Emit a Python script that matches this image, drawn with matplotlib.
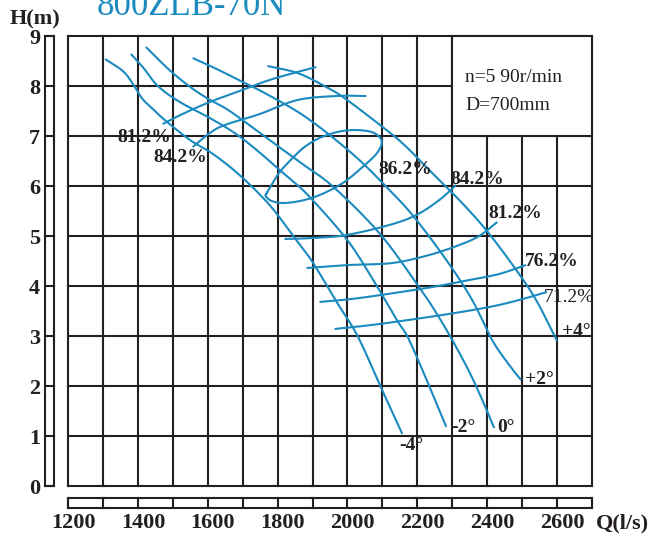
import numpy as np
import matplotlib.pyplot as plt
from matplotlib.patches import Rectangle
import matplotlib.transforms as mtransforms

plt.rcParams['font.family'] = ['Liberation Serif', 'DejaVu Serif']

BLUE = '#1a8abf'
INK = '#231f20'

# H-Q curves for each blade angle (Q in l/s, H in m)
q_m4 = [1306, 1357, 1386, 1411, 1440, 1477, 1549, 1611, 1691, 1777, 1849, 1900, 1969, 2029, 2094, 2157]
h_m4 = [8.54, 8.30, 8.04, 7.76, 7.56, 7.32, 6.92, 6.66, 6.22, 5.62, 4.96, 4.48, 3.68, 3.00, 2.00, 1.04]
q_m2 = [1380, 1414, 1457, 1520, 1606, 1677, 1740, 1806, 1863, 1900, 1969, 2020, 2091, 2143, 2171, 2206, 2234, 2283]
h_m2 = [8.64, 8.38, 8.00, 7.68, 7.36, 7.06, 6.72, 6.32, 5.98, 5.72, 5.18, 4.72, 3.92, 3.30, 3.00, 2.46, 2.00, 1.18]
q_0 = [1423, 1463, 1500, 1546, 1597, 1654, 1711, 1777, 1863, 1960, 2091, 2197, 2249, 2300, 2349, 2386, 2420]
h_0 = [8.78, 8.50, 8.26, 8.00, 7.76, 7.54, 7.26, 6.92, 6.48, 5.98, 5.06, 4.06, 3.52, 2.92, 2.28, 1.72, 1.16]
q_p2 = [1557, 1620, 1683, 1763, 1863, 1949, 2034, 2106, 2186, 2283, 2357, 2414, 2463, 2497]
h_p2 = [8.56, 8.36, 8.14, 7.86, 7.46, 7.02, 6.52, 6.02, 5.42, 4.52, 3.72, 2.92, 2.42, 2.12]
q_p4 = [1771, 1857, 1934, 1991, 2097, 2163, 2234, 2320, 2397, 2477, 2540, 2600]
h_p4 = [8.40, 8.26, 8.00, 7.76, 7.20, 6.82, 6.32, 5.72, 5.12, 4.38, 3.72, 2.90]

# iso-efficiency curves
q_e81a = [1471, 1534, 1606, 1691, 1777, 1857, 1911]
h_e81a = [7.24, 7.46, 7.68, 7.90, 8.12, 8.28, 8.38]
q_e84a = [1557, 1606, 1649, 1749, 1857, 1971, 2054]
h_e84a = [6.78, 7.06, 7.22, 7.44, 7.72, 7.80, 7.80]
q_e86 = [1769, 1786, 1806, 1843, 1877, 1920, 1971, 2020, 2069, 2094, 2097, 2080, 2040, 1991, 1934, 1877, 1820, 1783, 1766, 1769]
h_e86 = [5.86, 6.06, 6.28, 6.56, 6.78, 6.96, 7.08, 7.12, 7.08, 6.96, 6.82, 6.62, 6.36, 6.08, 5.86, 5.72, 5.66, 5.70, 5.80, 5.86]
q_e84b = [1820, 1900, 1997, 2120, 2197, 2263, 2311]
h_e84b = [4.94, 4.96, 5.02, 5.22, 5.42, 5.72, 6.02]
q_e81b = [1883, 2006, 2129, 2234, 2320, 2377, 2429]
h_e81b = [4.36, 4.42, 4.46, 4.62, 4.82, 5.00, 5.28]
q_e76 = [1920, 2034, 2226, 2349, 2434, 2511]
h_e76 = [3.68, 3.76, 3.96, 4.12, 4.24, 4.42]
q_e71 = [1963, 2091, 2271, 2406, 2491, 2571]
h_e71 = [3.14, 3.24, 3.42, 3.58, 3.72, 3.88]

eff_text = ['81.2%', '84.2%', '86.2%', '84.2%', '81.2%', '76.2%', '71.2%']
eff_q = [1417, 1520, 2166, 2371, 2480, 2586, 2634]
eff_h = [7.02, 6.62, 6.38, 6.18, 5.48, 4.54, 3.80]

ang_text = ['-4°', '-2°', '0°', '+2°', '+4°']
ang_q = [2183, 2331, 2454, 2549, 2654]
ang_h = [0.84, 1.22, 1.22, 2.16, 3.14]

q_ticks = np.arange(1200, 2701, 100)
q_labels = np.arange(1200, 2601, 200)
h_ticks = np.arange(0, 10)


def smooth(q, h, closed=False, n=16):
    # Catmull-Rom through the read points, done in pixel-like units
    P = np.column_stack([(np.asarray(q, float) - 1200) * 0.35, np.asarray(h, float) * 50])
    if closed:
        P = np.vstack([P[-2], P, P[1]])
    else:
        P = np.vstack([2 * P[0] - P[1], P, 2 * P[-1] - P[-2]])
    out = []
    t = np.linspace(0, 1, n, endpoint=False)[:, None]
    for i in range(1, len(P) - 2):
        p0, p1, p2, p3 = P[i - 1], P[i], P[i + 1], P[i + 2]
        out.append(0.5 * (2 * p1 + (-p0 + p2) * t + (2 * p0 - 5 * p1 + 4 * p2 - p3) * t ** 2
                          + (-p0 + 3 * p1 - 3 * p2 + p3) * t ** 3))
    out.append(P[-2][None])
    R = np.vstack(out)
    return R[:, 0] / 0.35 + 1200, R[:, 1] / 50


fig = plt.figure(figsize=(6.51, 5.36), dpi=100)
ax = fig.add_axes([68 / 651, 50 / 536, 524 / 651, 450 / 536])
ax.set_xlim(1200, 2700)
ax.set_ylim(0, 9)
ax.axis('off')

# grid
for q in q_ticks:
    ax.plot([q, q], [0, 9], color=INK, lw=1.5, zorder=1, clip_on=False)
for h in h_ticks:
    ax.plot([1200, 2700], [h, h], color=INK, lw=1.5, zorder=1, clip_on=False)
ax.add_patch(Rectangle((2300, 7), 400, 2, fc='white', ec=INK, lw=1.5, zorder=2, clip_on=False))
ax.text(2337, 8.18, 'n=5 90r/min', fontsize=14, va='center', ha='left', color=INK, zorder=3)
ax.text(2337, 7.60, 'D=700mm', fontsize=14, va='center', ha='left', color=INK, zorder=3)

# left ruler
trans = mtransforms.blended_transform_factory(ax.transAxes, ax.transData)
ax.add_patch(Rectangle((-0.0439, 0), 0.0172, 9, transform=trans, fill=False, ec=INK, lw=1.5, clip_on=False))
for h in h_ticks:
    ax.plot([-0.0439, -0.0267], [h, h], transform=trans, color=INK, lw=1.5, clip_on=False)
    ax.text(-0.053, h, str(h), transform=trans, ha='right', va='center_baseline',
            fontsize=16, fontweight='bold', color=INK)

# bottom ruler
ax.add_patch(Rectangle((1200, -0.44), 1500, 0.2, fill=False, ec=INK, lw=1.5, clip_on=False))
for q in q_ticks:
    ax.plot([q, q], [-0.44, -0.24], color=INK, lw=1.5, clip_on=False)
for q in q_labels:
    ax.text(q + 15, -0.70, str(q), ha='center', va='center_baseline', fontsize=16,
            fontweight='bold', color=INK)
ax.text(2712, -0.70, 'Q(l/s)', ha='left', va='center_baseline', fontsize=16,
        fontweight='bold', color=INK)
fig.text(35 / 651, 1 - 17 / 536, 'H(m)', ha='center', va='center_baseline', fontsize=16,
         fontweight='bold', color=INK)
fig.text(191 / 651, 1 - 15 / 536, '800ZLB-70N', ha='center', va='baseline', fontsize=25, color=BLUE)

# curves
for q, h in [(q_m4, h_m4), (q_m2, h_m2), (q_0, h_0), (q_p2, h_p2), (q_p4, h_p4),
             (q_e81a, h_e81a), (q_e84a, h_e84a), (q_e84b, h_e84b), (q_e81b, h_e81b),
             (q_e76, h_e76), (q_e71, h_e71)]:
    xs, ys = smooth(q, h)
    ax.plot(xs, ys, color=BLUE, lw=1.5, zorder=4, solid_capstyle='butt')
xs, ys = smooth(q_e86, h_e86, closed=True)
ax.plot(xs, ys, color=BLUE, lw=1.5, zorder=4)

for s, q, h in zip(eff_text, eff_q, eff_h):
    w = 'normal' if s == '71.2%' else 'bold'
    ax.text(q, h, s, ha='center', va='center_baseline', fontsize=14, fontweight=w,
            color=INK, zorder=5)
for s, q, h in zip(ang_text, ang_q, ang_h):
    ax.text(q, h, s, ha='center', va='center_baseline', fontsize=14, fontweight='bold',
            color=INK, zorder=5)

fig.savefig('out.png', dpi=100)
